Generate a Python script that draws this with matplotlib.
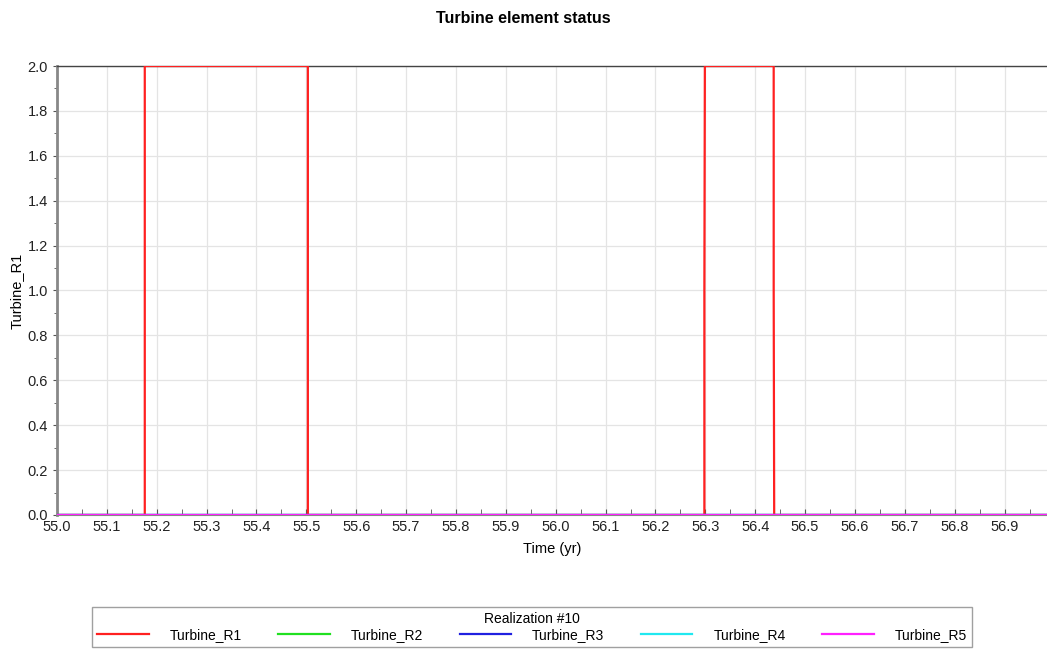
import matplotlib
matplotlib.use('Agg')
import matplotlib.pyplot as plt
from matplotlib.ticker import MultipleLocator, FormatStrFormatter

plt.rcParams['font.family'] = ['Liberation Sans', 'DejaVu Sans']

# step times (yr) and status of Turbine_R1
t_r1 = [55.0, 55.176, 55.176, 55.503, 55.503, 56.298, 56.298, 56.299, 56.437, 56.437, 56.438, 56.985]
s_r1 = [0, 0, 2, 2, 0, 0, 1, 2, 2, 1, 0, 0]
t_rest = [55.0, 56.985]
s_rest = [0, 0]

names = ['Turbine_R1', 'Turbine_R2', 'Turbine_R3', 'Turbine_R4', 'Turbine_R5']
colors = ['#ff2020', '#20e020', '#2020e0', '#20e8f0', '#ff20ff']

fig = plt.figure(figsize=(10.47, 6.54), dpi=100)
ax = fig.add_axes([57 / 1047, 1 - 515 / 654, (1047 - 57) / 1047, (515 - 66) / 654])

ax.plot(t_r1, s_r1, color=colors[0], lw=1.6, label=names[0], zorder=3)
for n, c in zip(names[1:], colors[1:]):
    ax.plot(t_rest, s_rest, color=c, lw=1.6, label=n, zorder=3)

ax.set_xlim(55.0, 56.985)
ax.set_ylim(0, 2.0)
ax.xaxis.set_major_locator(MultipleLocator(0.1))
ax.xaxis.set_minor_locator(MultipleLocator(0.05))
ax.yaxis.set_major_locator(MultipleLocator(0.2))
ax.yaxis.set_minor_locator(MultipleLocator(0.1))
ax.xaxis.set_major_formatter(FormatStrFormatter('%.1f'))
ax.yaxis.set_major_formatter(FormatStrFormatter('%.1f'))
ax.grid(True, which='major', color='#e4e4e4', lw=0.9, zorder=0)

ax.tick_params(axis='both', labelsize=10.5, colors='#222222')
ax.tick_params(axis='x', which='both', direction='in', length=4, color='#555555')
ax.tick_params(axis='y', which='major', direction='out', length=3, color='#555555')
ax.tick_params(axis='y', which='minor', direction='out', length=2, color='#555555')

ax.spines['right'].set_visible(False)
ax.spines['left'].set_color('#888888')
ax.spines['left'].set_linewidth(2)
ax.spines['top'].set_color('#444444')
ax.spines['top'].set_linewidth(1)
ax.spines['bottom'].set_color('#888888')

ax.set_xlabel('Time (yr)', fontsize=10.5, labelpad=6)
ax.set_ylabel('Turbine_R1', fontsize=10.5, labelpad=3)
fig.suptitle('Turbine element status', fontsize=11.5, fontweight='bold', y=1 - 11 / 654)

leg = fig.legend(loc='center', bbox_to_anchor=(532 / 1047, 1 - 627 / 654), ncol=5,
                 title='Realization #10', fontsize=10, title_fontsize=10,
                 frameon=True, fancybox=False, edgecolor='#888888',
                 handlelength=3.7, handletextpad=1.5, columnspacing=2.65,
                 borderpad=0.4, borderaxespad=0, labelspacing=0.1)
leg.get_frame().set_linewidth(1)

fig.savefig('out.png', dpi=100)
